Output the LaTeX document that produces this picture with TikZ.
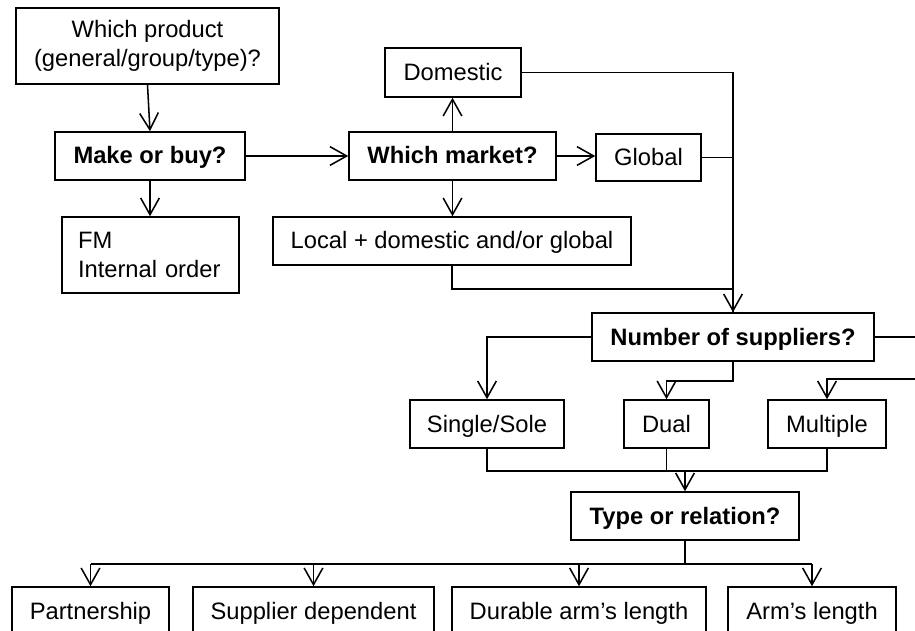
\documentclass[tikz,border=0pt]{standalone}
\usepackage{fontspec}
\setmainfont{Liberation Sans}
\usetikzlibrary{arrows.meta,calc}
\begin{document}
\begin{tikzpicture}[
  x=0.75pt, y=-0.75pt,
  every node/.style={font=\fontsize{17.8}{21.75}\selectfont},
  box/.style 2 args={draw, line width=1.15pt, inner sep=0pt,
    minimum width=#1*0.75pt, minimum height=#2*0.75pt, align=center},
  one/.style={text height=13pt, text depth=1pt},
  ask/.style={font=\fontsize{17.8}{21.75}\selectfont\bfseries, one},
  link/.style={line width=1.15pt},
  arr/.style={line width=1.15pt, -{Straight Barb[length=12.5pt,width=14pt,line width=1.15pt]}},
  bus/.style={line width=1.7pt}
]
\useasboundingbox (0,0) rectangle (915,631);
\clip (0,0) rectangle (915,631);

% decision chain, top half
\node[box={263}{76}] (prod) at (147.5,46) {Which product\\(general/group/type)?};
\node[box={190}{48}, ask] (mob) at (150,156) {Make or buy?};
\node[box={177}{76}, align=left, text width=145*0.75pt, inner xsep=16*0.75pt] (fm) at (150.5,255) {FM\\Internal order};
\node[box={207}{48}, ask] (wm) at (452.5,156) {Which market?};
\node[box={136}{49}, one] (dom) at (453,72.5) {Domestic};
\node[box={105}{47}, one] (glob) at (648.5,157.5) {Global};
\node[box={358}{48}, one] (loc) at (452,241) {Local + domestic and/or global};

% supplier count
\node[box={282}{48}, ask] (nos) at (733,337) {Number of suppliers?};
\node[box={154}{48}, one] (single) at (487,424) {Single/Sole};
\node[box={85}{48}, one] (dual) at (666.5,424) {Dual};
\node[box={118}{48}, one] (multi) at (827,424) {Multiple};

% relation type
\node[box={228}{48}, ask] (type) at (685,516) {Type or relation?};
\node[box={157}{48}, one] (part) at (90.5,611) {Partnership};
\node[box={241}{48}, one] (supp) at (313.5,611) {Supplier dependent};
\node[box={254}{48}, one] (dur) at (579,611) {Durable arm’s length};
\node[box={168}{48}, one] (arm) at (812,611) {Arm’s length};

% connectors
\draw[arr] (prod.south) -- (mob.north);
\draw[arr] (mob.east) -- (mob.east -| wm.west);
\draw[arr] (mob.south) -- (mob.south |- fm.north);
\draw[arr] (wm.north) -- (wm.north |- dom.south);
\draw[arr] (wm.east) -- (wm.east -| glob.west);
\draw[arr] (wm.south) -- (wm.south |- loc.north);

\draw[arr] (dom.east) -| (nos.north);
\draw[link] (glob.east) -- (glob.east -| nos.north);
\draw[link] (loc.south) -- ++(0,23) -| (nos.north);

\draw[arr] (nos.west) -| (single.north);
\draw[arr] (nos.south) -- ++(0,19) -| (dual.north);
\draw[arr] (nos.east) -- ++(60,0) |- ([yshift=15pt]multi.north) -- (multi.north);

\draw[bus] (single.south) -- ++(0,22) coordinate (busa) -| (multi.south);
\draw[link] (dual.south) -- (dual.south |- busa);
\draw[arr] (type.north |- busa) -- (type.north);

\draw[bus] (type.south) -- ++(0,23) coordinate (busb);
\draw[bus] (part.north |- busb) -- (arm.north |- busb);
\draw[arr] (part.north |- busb) -- (part.north);
\draw[arr] (supp.north |- busb) -- (supp.north);
\draw[arr] (dur.north |- busb) -- (dur.north);
\draw[arr] (arm.north |- busb) -- (arm.north);
\end{tikzpicture}
\end{document}
